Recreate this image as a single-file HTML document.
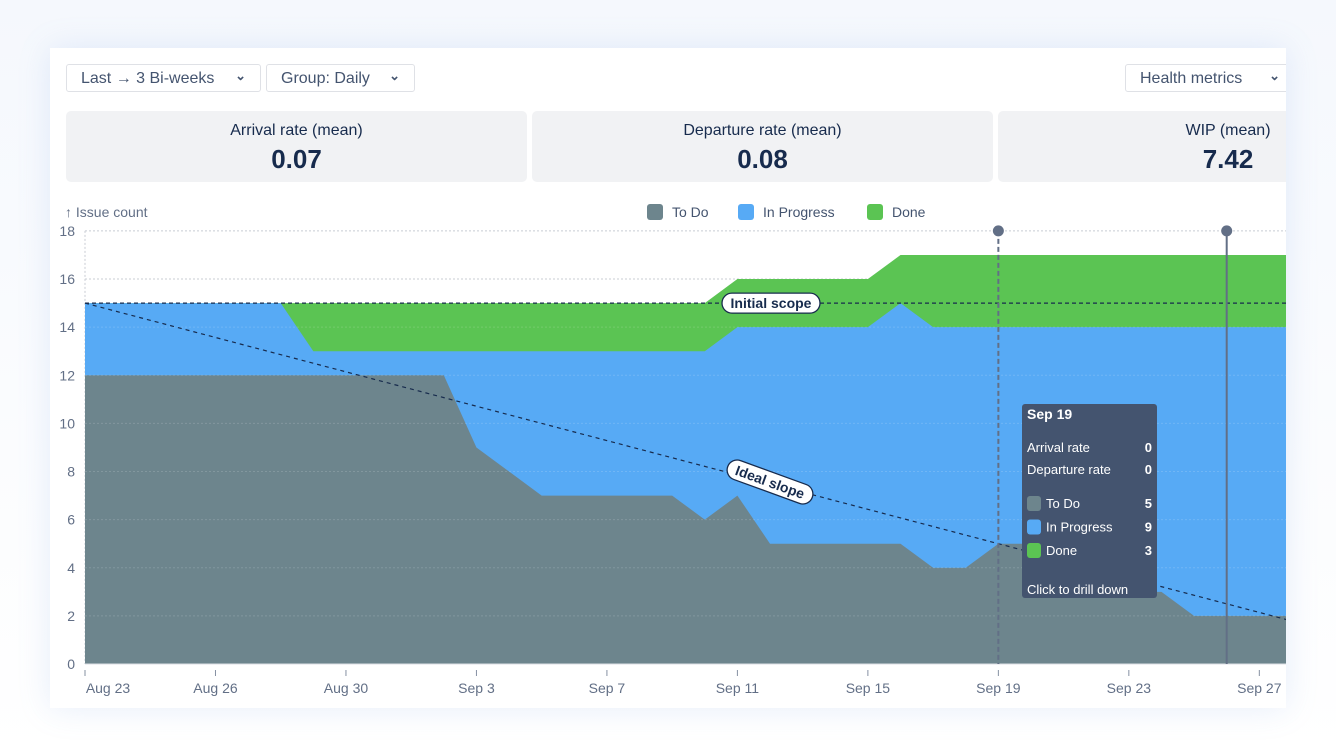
<!DOCTYPE html>
<html><head><meta charset="utf-8">
<style>
body{margin:0;width:1336px;height:756px;background:#fff;font-family:"Liberation Sans",sans-serif;position:relative;overflow:hidden;color:#172b4d}
.bg{position:absolute;left:0;top:0;width:1336px;height:756px;background:linear-gradient(#f5f8fd,#fff)}
.card{position:absolute;left:50px;top:48px;width:1236px;height:660px;background:#fff;box-shadow:0 0 30px rgba(120,160,230,0.18);overflow:hidden}
.btn{position:absolute;top:16px;height:28px;border:1px solid #dfe1e6;border-radius:3px;font-size:16px;color:#44546f;line-height:27px;box-sizing:border-box;padding-left:14px}
.btn span{font-size:13px;font-weight:bold;position:absolute;right:14px;top:-3px}
.stat{position:absolute;top:63px;height:71px;background:#f1f2f4;border-radius:5px;text-align:center}
.stat .t{font-size:16px;color:#172b4d;margin-top:11px}
.stat .v{font-size:26px;font-weight:bold;color:#172b4d;margin-top:4px}
</style></head><body>
<div class="bg"></div>
<div class="card">
 <div class="btn" style="left:16px;width:195px">Last → 3 Bi-weeks<span>⌄</span></div>
 <div class="btn" style="left:216px;width:149px">Group: Daily<span>⌄</span></div>
 <div class="btn" style="left:1075px;width:170px">Health metrics<span>⌄</span></div>
 <div class="stat" style="left:16px;width:461px"><div class="t">Arrival rate (mean)</div><div class="v">0.07</div></div>
 <div class="stat" style="left:482px;width:461px"><div class="t">Departure rate (mean)</div><div class="v">0.08</div></div>
 <div class="stat" style="left:948px;width:340px"><div class="t" style="margin-left:120px">WIP (mean)</div><div class="v" style="margin-left:120px">7.42</div></div>
</div>
<svg id="chart" width="1336" height="756" style="position:absolute;left:0;top:0">
<defs><clipPath id="cp"><rect x="50" y="0" width="1236" height="756"/></clipPath></defs>
<g id="g" clip-path="url(#cp)"></g>
</svg>
<script>
const todo=[12,12,12,12,12,12,12,12,12,12,12,12,9,8,7,7,7,7,7,6,7,5,5,5,5,5,4,4,5,5,5,4,3,3,2,2,2,2];
const inProgress=[3,3,3,3,3,3,3,1,1,1,1,1,4,5,6,6,6,6,6,7,7,9,9,9,9,10,10,10,9,9,9,10,11,11,12,12,12,12];
const done=[0,0,0,0,0,0,0,2,2,2,2,2,2,2,2,2,2,2,2,2,2,2,2,2,2,2,3,3,3,3,3,3,3,3,3,3,3,3];
const yTicks=[0,2,4,6,8,10,12,14,16,18];
const xTickIdx=[0,4,8,12,16,20,24,28,32,36];
const xTickLabels=["Aug 23","Aug 26","Aug 30","Sep 3","Sep 7","Sep 11","Sep 15","Sep 19","Sep 23","Sep 27"];
const initialScope=15;
const idealEndDay=42;
const tooltipDay=28, cursorDay=35;
const X=i=>85+32.62*i, Y=v=>664-24.06*v;
const NS="http://www.w3.org/2000/svg", g=document.getElementById('g'), svg=document.getElementById('chart');
function mk(t,a,p){const e=document.createElementNS(NS,t);for(const k in a)e.setAttribute(k,a[k]);(p||g).appendChild(e);return e;}
yTicks.forEach(v=>{
 const l=mk('line',{x1:85,x2:1286,y1:Y(v),y2:Y(v),stroke:'#c8ccd3','stroke-dasharray':'2,2','stroke-width':1});
 
 
 const t=mk('text',{x:75,y:Y(v)+5,'text-anchor':'end','font-size':14,fill:'#626f86'},svg);t.textContent=v;
 
 
});
mk('line',{x1:85,x2:85,y1:Y(18),y2:Y(0),stroke:'#c8ccd3','stroke-dasharray':'2,2'});
function area(vals,color,name){
 let d='M'+X(0)+','+Y(0);vals.forEach((v,i)=>d+=' L'+X(i)+','+Y(v));d+=' L'+X(vals.length-1)+','+Y(0)+'Z';
 const p=mk('path',{d:d,fill:color});
 
 
}
const c1=todo.map((v,i)=>v+inProgress[i]), c2=c1.map((v,i)=>v+done[i]);
area(c2,'#5bc453','done-area');area(c1,'#57aaf5','in-progress-area');area(todo,'#6d858d','todo-area');
yTicks.slice(1,8).forEach(v=>{mk('line',{x1:85,x2:1286,y1:Y(v),y2:Y(v),stroke:'rgba(255,255,255,0.15)','stroke-dasharray':'2,2'});});
mk('line',{x1:85,x2:1286,y1:Y(0),y2:Y(0),stroke:'#dcdfe4'});
const is=mk('line',{x1:85,x2:1286,y1:Y(initialScope),y2:Y(initialScope),stroke:'#172b4d','stroke-dasharray':'4,3','stroke-width':1.3});


const il=mk('line',{x1:X(0),y1:Y(initialScope),x2:X(idealEndDay),y2:Y(0),stroke:'#172b4d','stroke-dasharray':'4,4','stroke-width':1.2});


function pill(cx,cy,w,txt,rot,name){
 const gg=mk('g',{transform:`translate(${cx},${cy}) rotate(${rot})`});
 
 
 mk('rect',{x:-w/2,y:-10,width:w,height:20,rx:10,fill:'#fff',stroke:'#172b4d','stroke-width':1.3},gg);
 const t=mk('text',{x:0,y:5,'text-anchor':'middle','font-size':14,'font-weight':'bold',fill:'#172b4d'},gg);t.textContent=txt;
}
pill(771,Y(initialScope),98,'Initial scope',0,'initial-scope-label');
pill(770,482,90,'Ideal slope',20,'ideal-slope-label');
mk('line',{x1:X(tooltipDay),x2:X(tooltipDay),y1:Y(18),y2:Y(0),stroke:'#626f86','stroke-width':2,'stroke-dasharray':'5,3'});
mk('circle',{cx:X(tooltipDay),cy:Y(18),r:5.5,fill:'#626f86'});
mk('line',{x1:X(cursorDay),x2:X(cursorDay),y1:Y(18),y2:Y(0),stroke:'#626f86','stroke-width':2});
mk('circle',{cx:X(cursorDay),cy:Y(18),r:5.5,fill:'#626f86'});
xTickIdx.forEach((d,k)=>{
 mk('line',{x1:X(d),x2:X(d),y1:670,y2:676,stroke:'#8590a2'});
 const t=mk('text',{x:X(d)+(k==0?23:0),y:693,'text-anchor':'middle','font-size':14,fill:'#626f86'});t.textContent=xTickLabels[k];
 
 
});
const at=mk('text',{x:65,y:217,'font-size':14,fill:'#626f86'},svg);at.textContent='↑ Issue count';


[['To Do','#6d858d',647],['In Progress','#57aaf5',738],['Done','#5bc453',867]].forEach(([n,c,x])=>{
 const gg=mk('g',{},svg);
 
 
 mk('rect',{x:x,y:204,width:16,height:16,rx:3,fill:c},gg);
 const t=mk('text',{x:x+25,y:217,'font-size':14,fill:'#44546f'},gg);t.textContent=n;
});
const tg=mk('g',{},svg);


mk('rect',{x:1022,y:404,width:135,height:194,rx:3,fill:'#44546f'},tg);
function tt(x,y,s,b,anchor,fs){const t=mk('text',{x:x,y:y,'font-size':fs||13,fill:'#fff','font-weight':b?'bold':'normal','text-anchor':anchor||'start'},tg);t.textContent=s;}
tt(1027,419,'Sep 19',1,'start',14);
tt(1027,452,'Arrival rate');tt(1152,452,'0',1,'end');
tt(1027,474,'Departure rate');tt(1152,474,'0',1,'end');
[['To Do','#6d858d',todo],['In Progress','#57aaf5',inProgress],['Done','#5bc453',done]].forEach(([n,c,a],k)=>{
 const y=504+k*23.5;
 mk('rect',{x:1027,y:y-8,width:14,height:15,rx:3,fill:c},tg);
 tt(1046,y+4,n);tt(1152,y+4,String(a[tooltipDay]),1,'end');
});
tt(1027,594,'Click to drill down');
</script>
</body></html>
